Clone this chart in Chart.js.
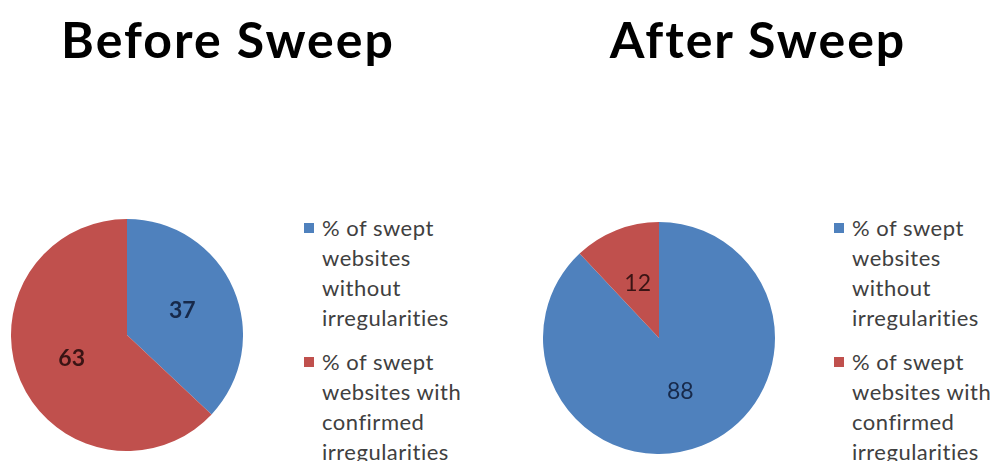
<!DOCTYPE html>
<html>
<head>
<meta charset="utf-8">
<script src="https://cdn.jsdelivr.net/npm/chart.js@4"></script>
<style>
  body { margin: 0; background: #fff; width: 995px; height: 461px; overflow: hidden; position: relative; font-family: Lato, "Open Sans", sans-serif; }
  .title { position: absolute; top: 7px; font-weight: bold; font-size: 50px; letter-spacing: 2px; line-height: 64px; color: #000; text-align: center; width: 400px; }
  .pie { position: absolute; width: 232px; height: 232px; }
  .legend { position: absolute; top: 213px; font-size: 22px; letter-spacing: 0.5px; line-height: 30px; color: #404040; }
  .legend .item { position: relative; padding-left: 18px; margin-bottom: 14px; }
  .legend .box { position: absolute; left: 0; top: 10px; width: 10px; height: 10px; }
</style>
</head>
<body>
<div class="title" style="left:28px">Before Sweep</div>
<div class="title" style="left:558px">After Sweep</div>
<div class="pie" style="left:11px; top:219px"><canvas id="beforeChart"></canvas></div>
<div class="pie" style="left:543px; top:222px"><canvas id="afterChart"></canvas></div>
<div class="legend" id="beforeLegend" style="left:304px"></div>
<div class="legend" id="afterLegend" style="left:834px"></div>

<script>
// Datos
const categories = [
    ['% of swept', 'websites', 'without', 'irregularities'],
    ['% of swept', 'websites with', 'confirmed', 'irregularities']
];
const beforeValues = [37, 63];
const afterValues = [88, 12];
const sliceColors = ['#4F81BD', '#C0504D'];
const labelColors = ['#17294A', '#3A1414'];

// Etiquetas de valor dentro de cada porción
const sliceLabels = {
    id: 'sliceLabels',
    afterDatasetsDraw(chart, args, opts) {
        const ctx = chart.ctx;
        const meta = chart.getDatasetMeta(0);
        const values = chart.data.datasets[0].data;
        ctx.save();
        ctx.font = opts.weight + ' 23px Lato, "Open Sans", sans-serif';
        ctx.textAlign = 'center';
        ctx.textBaseline = 'middle';
        meta.data.forEach(function(arc, i) {
            const p = arc.getProps(['x', 'y', 'startAngle', 'endAngle', 'outerRadius'], true);
            const mid = (p.startAngle + p.endAngle) / 2;
            const r = p.outerRadius * opts.factor;
            ctx.fillStyle = labelColors[i];
            ctx.fillText(values[i], p.x + Math.cos(mid) * r, p.y + Math.sin(mid) * r);
        });
        ctx.restore();
    }
};

function makePie(id, values, weight, factor) {
    const ctx = document.getElementById(id).getContext('2d');
    return new Chart(ctx, {
        type: 'pie',
        data: {
            labels: categories,
            datasets: [{
                data: values,
                backgroundColor: sliceColors,
                borderWidth: 0
            }]
        },
        options: {
            responsive: true,
            maintainAspectRatio: false,
            animation: false,
            layout: { padding: 0 },
            plugins: {
                legend: { display: false },
                tooltip: { enabled: false },
                sliceLabels: { weight: weight, factor: factor }
            }
        },
        plugins: [sliceLabels]
    });
}

function buildLegend(chart, elId) {
    const el = document.getElementById(elId);
    chart.data.labels.forEach(function(label, i) {
        const item = document.createElement('div');
        item.className = 'item';
        item.innerHTML = '<span class="box" style="background:' + chart.data.datasets[0].backgroundColor[i] + '"></span>' +
            (Array.isArray(label) ? label.join('<br>') : label);
        el.appendChild(item);
    });
}

const beforeChart = makePie('beforeChart', beforeValues, 'bold', 0.52);
const afterChart = makePie('afterChart', afterValues, 'normal', 0.5);
buildLegend(beforeChart, 'beforeLegend');
buildLegend(afterChart, 'afterLegend');
</script>
</body>
</html>
